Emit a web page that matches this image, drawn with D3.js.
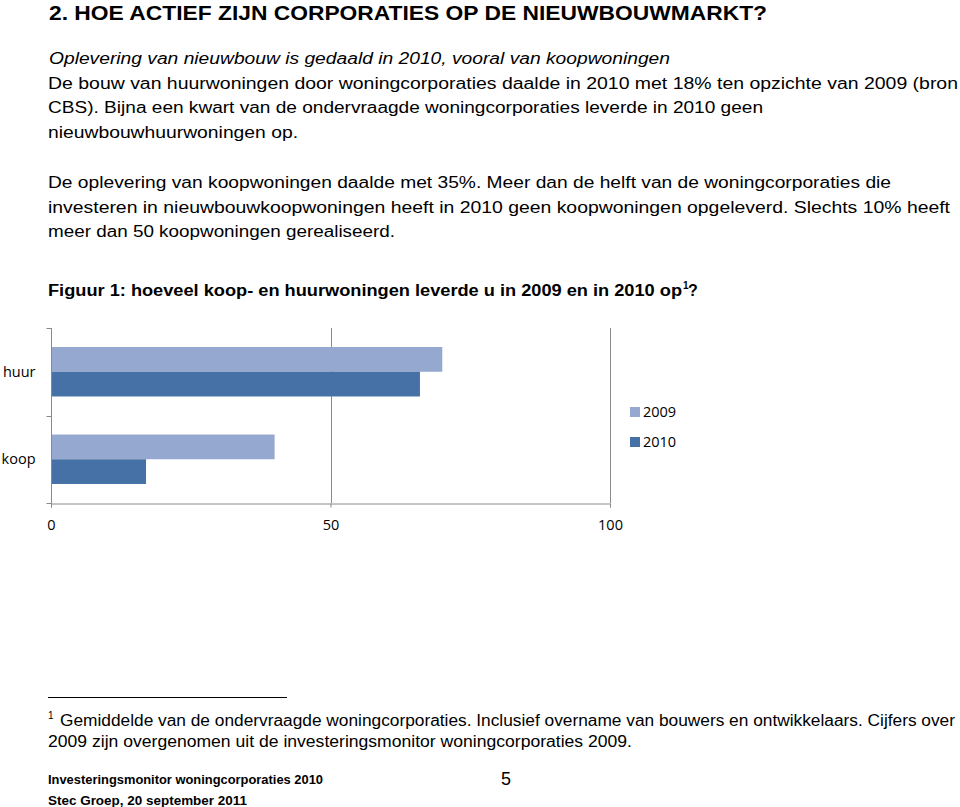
<!DOCTYPE html>
<html>
<head>
<meta charset="utf-8">
<script src="https://cdn.jsdelivr.net/npm/d3@7"></script>
<style>
  html, body { margin: 0; padding: 0; background: #fff; }
  svg { display: block; }
  .body { font-family: "Liberation Sans", Arial, sans-serif; font-size: 16px; fill: #000; }
  .chart { font-family: "Open Sans", sans-serif; font-size: 14.5px; fill: #000; }
</style>
</head>
<body>
<svg id="page" width="960" height="807"></svg>
<script>
// ---- data ----
const categories = ["huur", "koop"];
const series = ["2009", "2010"];
const values2009 = [70, 40];
const values2010 = [66, 17];
const xTicks = [0, 50, 100];
const seriesColors = ["#94a8d0", "#4571a7"];

const svg = d3.select("#page");

// ---- text blocks ----
// [text, x, baseline, endX, style]
const textLines = [
  ["2.  HOE ACTIEF ZIJN CORPORATIES OP DE NIEUWBOUWMARKT?", 49, 20, 767, "head"],
  ["Oplevering van nieuwbouw is gedaald in 2010, vooral van koopwoningen", 49, 64, 670, "italic"],
  ["De bouw van huurwoningen door woningcorporaties daalde in 2010 met 18% ten opzichte van 2009 (bron", 48, 88.5, 958, "normal"],
  ["CBS). Bijna een kwart van de ondervraagde woningcorporaties leverde in 2010 geen", 48, 113, 763, "normal"],
  ["nieuwbouwhuurwoningen op.", 48, 137.5, 298, "normal"],
  ["De oplevering van koopwoningen daalde met 35%. Meer dan de helft van de woningcorporaties die", 48, 188, 891, "normal"],
  ["investeren in nieuwbouwkoopwoningen heeft in 2010 geen koopwoningen opgeleverd. Slechts 10% heeft", 48, 212.5, 950, "normal"],
  ["meer dan 50 koopwoningen gerealiseerd.", 48, 237, 395, "normal"],
  ["Figuur 1: hoeveel koop- en huurwoningen leverde u in 2009 en in 2010 op", 48, 296, 682, "bold"],
  ["Gemiddelde van de ondervraagde woningcorporaties. Inclusief overname van bouwers en ontwikkelaars. Cijfers over", 60, 726, 955, "normal"],
  ["2009 zijn overgenomen uit de investeringsmonitor woningcorporaties 2009.", 48, 747, 632, "normal"],
  ["Investeringsmonitor woningcorporaties 2010", 48, 784, 323, "foot"],
  ["Stec Groep, 20 september 2011", 48, 805, 247, "foot"]
];

textLines.forEach(([t, x, y, end, style]) => {
  const el = svg.append("text").attr("class", "body")
    .attr("x", x).attr("y", y)
    .attr("textLength", end - x).attr("lengthAdjust", "spacingAndGlyphs")
    .text(t);
  if (style === "head") el.style("font-size", "20px").style("font-weight", "bold");
  if (style === "italic") el.style("font-style", "italic");
  if (style === "bold") el.style("font-weight", "bold");
  if (style === "foot") el.style("font-size", "13px").style("font-weight", "bold");
});

// superscripts and extras
svg.append("text").attr("class", "body").attr("x", 683).attr("y", 289).style("font-size", "10px").style("font-weight", "bold").text("1");
svg.append("text").attr("class", "body").attr("x", 688).attr("y", 296).style("font-weight", "bold").text("?");
svg.append("text").attr("class", "body").attr("x", 48).attr("y", 719).style("font-size", "10px").text("1");
svg.append("text").attr("class", "body").attr("x", 506).attr("y", 785).attr("text-anchor", "middle").style("font-size", "18px").text("5");

// footnote rule
svg.append("line").attr("x1", 48).attr("x2", 287).attr("y1", 697.5).attr("y2", 697.5)
  .attr("stroke", "#000").attr("stroke-width", 1);

// ---- chart ----
const x = d3.scaleLinear().domain([0, 100]).range([51, 610]);
const y = d3.scaleBand().domain(categories).range([328, 503]).padding(0);
const ySub = d3.scaleBand().domain(series).range([0, y.bandwidth()]).paddingInner(0).paddingOuter(0.77);

const axisColor = "#8a8a8a";
const g = svg.append("g").attr("class", "chart");

// gridlines
g.selectAll("line.grid").data(xTicks.filter(d => d > 0)).join("line")
  .attr("class", "grid")
  .attr("x1", d => Math.round(x(d)) + 0.5).attr("x2", d => Math.round(x(d)) + 0.5)
  .attr("y1", 328).attr("y2", 503)
  .attr("stroke", axisColor).attr("stroke-width", 1);

// bars
const data = [];
categories.forEach((c, i) => {
  data.push({ cat: c, s: "2009", v: values2009[i], color: seriesColors[0] });
  data.push({ cat: c, s: "2010", v: values2010[i], color: seriesColors[1] });
});
g.selectAll("rect.bar").data(data).join("rect")
  .attr("class", "bar")
  .attr("x", x(0))
  .attr("y", d => y(d.cat) + ySub(d.s))
  .attr("width", d => x(d.v) - x(0))
  .attr("height", ySub.bandwidth())
  .attr("fill", d => d.color);

// x axis
const xAxis = d3.axisBottom(x).tickValues(xTicks).tickSize(4).tickPadding(12).tickFormat(d3.format("d"));
const xg = g.append("g").attr("transform", "translate(0,503.5)").call(xAxis);
xg.select(".domain").attr("stroke", axisColor);
xg.selectAll(".tick line").attr("stroke", axisColor);
xg.selectAll(".tick text").attr("fill", "#000").style("font-family", "Open Sans, sans-serif").style("font-size", "14.5px").attr("dy", "0.71em");

// y axis (category boundaries ticks)
const yg = g.append("g").attr("transform", "translate(51.5,0)");
yg.append("line").attr("x1", 0).attr("x2", 0).attr("y1", 328).attr("y2", 503.5).attr("stroke", axisColor);
const boundaries = categories.map(c => y(c)).concat([y.range()[1]]);
yg.selectAll("line.tk").data(boundaries).join("line").attr("class", "tk")
  .attr("x1", -5).attr("x2", 0)
  .attr("y1", d => Math.round(d) + 0.5).attr("y2", d => Math.round(d) + 0.5)
  .attr("stroke", axisColor);
yg.selectAll("text").data(categories).join("text")
  .attr("x", -16).attr("y", d => y(d) + ySub("2010"))
  .attr("dy", "0.35em").attr("text-anchor", "end")
  .style("font-family", "Open Sans, sans-serif").style("font-size", "14.5px")
  .text(d => d);

// legend
const lg = g.append("g");
series.forEach((s, i) => {
  const ly = 407 + i * 30;
  lg.append("rect").attr("x", 630).attr("y", ly).attr("width", 10).attr("height", 10).attr("fill", seriesColors[i]);
  lg.append("text").attr("x", 643).attr("y", ly + 5).attr("dy", "0.35em")
    .style("font-family", "Open Sans, sans-serif").style("font-size", "14.5px").text(s);
});
</script>
</body>
</html>
